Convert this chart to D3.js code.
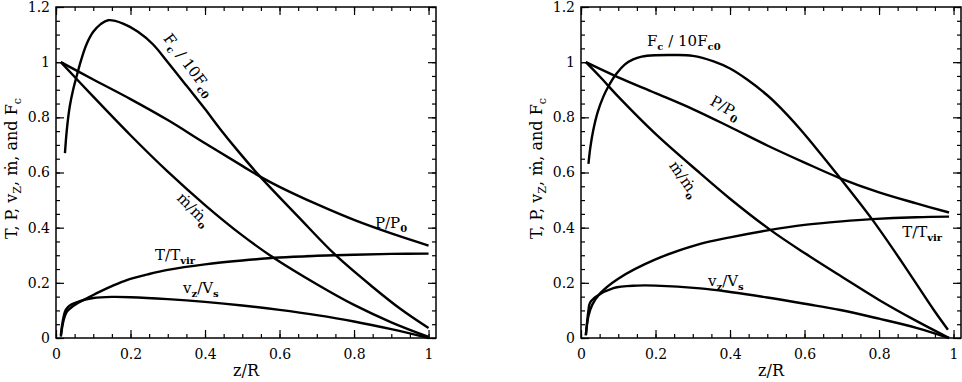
<!DOCTYPE html>
<meta charset="utf-8">
<head>
<style>
body { margin: 0; background: #fff; }
svg { display: block; font-family: "DejaVu Serif", serif; }
.tick text { font-family: "DejaVu Serif", serif; font-size: 14px; fill: #000; }
.tick line { stroke: #000; stroke-width: 1.2; }
.curve { fill: none; stroke: #000; stroke-width: 2.4; stroke-linejoin: round; }
.lbl { font-size: 15px; fill: #000; }
</style>
</head>
<body>
<svg id="chart" width="962" height="382"></svg>
<script src="https://cdn.jsdelivr.net/npm/d3@7"></script>
<script>

// ---- data: [z/R, value] ----
var leftFc = [[0.024,0.67],[0.029,0.754],[0.037,0.84],[0.046,0.9],[0.055,0.947],[0.068,1.01],[0.082,1.065],
  [0.1,1.11],[0.12,1.138],[0.14,1.152],[0.18,1.14],[0.22,1.11],[0.26,1.065],[0.3,1.0],[0.35,0.915],
  [0.4,0.83],[0.441,0.757],[0.486,0.682],[0.548,0.585],[0.65,0.44],[0.75,0.301],[0.85,0.185],
  [0.925,0.105],[1.0,0.036]];
var leftP = [[0.013,1.0],[0.1,0.937],[0.2,0.866],[0.3,0.79],[0.4,0.706],[0.5,0.624],[0.548,0.585],
  [0.6,0.548],[0.7,0.485],[0.8,0.428],[0.9,0.379],[1.0,0.335]];
var leftMdot = [[0.013,1.0],[0.1,0.875],[0.2,0.735],[0.3,0.603],[0.4,0.482],[0.5,0.372],[0.584,0.291],
  [0.7,0.195],[0.8,0.12],[0.9,0.057],[1.0,0.004]];
var leftT = [[0.013,0.005],[0.018,0.05],[0.024,0.08],[0.03,0.097],[0.045,0.115],[0.06,0.128],[0.08,0.142],
  [0.1,0.156],[0.118,0.168],[0.15,0.188],[0.19,0.21],[0.25,0.232],[0.3,0.247],[0.4,0.267],[0.5,0.281],
  [0.6,0.292],[0.7,0.298],[0.8,0.302],[0.9,0.305],[1.0,0.306]];
var leftVz = [[0.013,0.01],[0.018,0.06],[0.024,0.095],[0.032,0.112],[0.042,0.122],[0.064,0.134],[0.1,0.145],
  [0.15,0.149],[0.2,0.148],[0.3,0.141],[0.4,0.131],[0.5,0.118],[0.6,0.102],[0.7,0.083],[0.8,0.06],
  [0.9,0.032],[1.0,0.0]];

var rightFc = [[0.02,0.631],[0.025,0.69],[0.033,0.754],[0.045,0.82],[0.06,0.875],[0.073,0.911],[0.095,0.958],
  [0.118,0.992],[0.14,1.01],[0.163,1.02],[0.2,1.025],[0.25,1.026],[0.3,1.023],[0.356,1.003],[0.4,0.977],
  [0.446,0.937],[0.5,0.88],[0.535,0.835],[0.589,0.756],[0.625,0.698],[0.696,0.579],[0.781,0.431],
  [0.86,0.278],[0.947,0.1015],[0.985,0.03]];
var rightP = [[0.013,1.0],[0.1,0.945],[0.2,0.888],[0.3,0.83],[0.4,0.765],[0.5,0.698],[0.6,0.636],
  [0.696,0.579],[0.8,0.528],[0.9,0.488],[0.988,0.455]];
var rightMdot = [[0.013,1.0],[0.051,0.947],[0.1,0.875],[0.2,0.74],[0.32,0.597],[0.4,0.505],[0.508,0.392],
  [0.6,0.308],[0.7,0.222],[0.8,0.138],[0.9,0.062],[0.988,0.0]];
var rightT = [[0.013,0.01],[0.02,0.08],[0.03,0.12],[0.05,0.16],[0.1,0.215],[0.2,0.285],[0.32,0.341],
  [0.4,0.365],[0.508,0.392],[0.6,0.41],[0.7,0.423],[0.781,0.431],[0.9,0.438],[0.988,0.44]];
var rightVz = [[0.013,0.01],[0.02,0.1],[0.024,0.127],[0.042,0.151],[0.087,0.181],[0.15,0.19],[0.2,0.19],
  [0.32,0.18],[0.4,0.167],[0.5,0.147],[0.6,0.124],[0.696,0.1015],[0.8,0.07],[0.9,0.037],[0.988,0.0]];

var xMajor = [0, 0.2, 0.4, 0.6, 0.8, 1];
var yMajor = [0, 0.2, 0.4, 0.6, 0.8, 1, 1.2];
var xLabel = "z/R";

var svg = d3.select("#chart"),
    margin = {top: 7, bottom: 44},
    width = 380,
    height = +svg.attr("height") - margin.top - margin.bottom;

var x = d3.scaleLinear().domain([0, 1.02]).range([0, width]);
var y = d3.scaleLinear().domain([0, 1.2]).range([height, 0]);

var line = d3.line()
    .x(function(d) { return x(d[0]); })
    .y(function(d) { return y(d[1]); })
    .curve(d3.curveCatmullRom.alpha(0.5));

// text with subscripts: parts = [[text, isSub, plain], ...]
function richText(sel, parts, subSize) {
  var shifted = false;
  parts.forEach(function(p) {
    var t = sel.append("tspan").text(p[0]);
    if (p[1]) {
      t.style("font-size", subSize + "px").style("font-weight", p[2] ? null : "bold");
      if (!shifted) { t.attr("dy", 4); shifted = true; }
    } else if (shifted) { t.attr("dy", -4); shifted = false; }
  });
  return sel;
}

function curveLabel(g, pos, parts, angle, anchor) {
  var t = g.append("text").attr("class", "lbl")
      .attr("text-anchor", anchor || "start")
      .attr("transform", "translate(" + x(pos[0]) + "," + y(pos[1]) + ") rotate(" + (angle || 0) + ")");
  richText(t, parts, 10);
}

function panel(left, series, labels) {
  var g = svg.append("g").attr("transform", "translate(" + left + "," + margin.top + ")");

  var minorX = d3.range(0, 1.0001, 0.05), minorY = d3.range(0, 1.2001, 0.05);

  g.append("g").attr("transform", "translate(0," + height + ")")
      .call(d3.axisBottom(x).tickValues(minorX).tickSize(-4).tickFormat(""));
  g.append("g").attr("transform", "translate(0," + height + ")")
      .call(d3.axisBottom(x).tickValues(xMajor).tickSize(-8).tickPadding(11).tickFormat(String));
  g.append("g").call(d3.axisTop(x).tickValues(minorX).tickSize(-4).tickFormat(""));
  g.append("g").call(d3.axisTop(x).tickValues(xMajor).tickSize(-8).tickFormat(""));
  g.append("g").call(d3.axisLeft(y).tickValues(minorY).tickSize(-4).tickFormat(""));
  g.append("g").call(d3.axisLeft(y).tickValues(yMajor).tickSize(-8).tickPadding(6).tickFormat(String));
  g.append("g").attr("transform", "translate(" + width + ",0)")
      .call(d3.axisRight(y).tickValues(minorY).tickSize(-4).tickFormat(""));
  g.append("g").attr("transform", "translate(" + width + ",0)")
      .call(d3.axisRight(y).tickValues(yMajor).tickSize(-8).tickFormat(""));
  g.selectAll(".domain").remove();

  g.append("rect").attr("width", width).attr("height", height)
      .attr("fill", "none").attr("stroke", "#000").attr("stroke-width", 1.5);

  g.selectAll(".curve").data(series).enter().append("path")
      .attr("class", "curve").attr("d", line);

  labels.forEach(function(l) { curveLabel(g, l.pos, l.parts, l.angle, l.anchor); });

  g.append("text").attr("class", "lbl").attr("text-anchor", "middle")
      .attr("x", width / 2).attr("y", height + 38).style("font-size", "16px").text(xLabel);

  var yl = g.append("text").attr("class", "lbl").attr("text-anchor", "middle")
      .attr("transform", "translate(-39," + (height / 2 - 4) + ") rotate(-90)").style("font-size", "16px");
  richText(yl, [["T, P, v"], ["Z", true, true], [", \u1E41, and F"], ["c", true, true]], 11);
}

var sub = true;
panel(56, [leftFc, leftP, leftMdot, leftT, leftVz], [
  {pos: [0.346, 0.979], angle: 53, anchor: "middle", parts: [["F"], ["c", sub], [" / 10F"], ["c0", sub]]},
  {pos: [0.856, 0.399], parts: [["P/P"], ["0", sub]]},
  {pos: [0.36, 0.453], angle: 45, anchor: "middle", parts: [["\u1E41/\u1E41"], ["o", sub]]},
  {pos: [0.266, 0.283], parts: [["T/T"], ["vir", sub]]},
  {pos: [0.341, 0.163], parts: [["v"], ["z", sub], ["/V"], ["s", sub]]}
]);
panel(581, [rightFc, rightP, rightMdot, rightT, rightVz], [
  {pos: [0.177, 1.059], parts: [["F"], ["c", sub], [" / 10F"], ["c0", sub]]},
  {pos: [0.381, 0.819], angle: 30, anchor: "middle", parts: [["P/P"], ["0", sub]]},
  {pos: [0.266, 0.566], angle: 55, anchor: "middle", parts: [["\u1E41/\u1E41"], ["o", sub]]},
  {pos: [0.862, 0.366], parts: [["T/T"], ["vir", sub]]},
  {pos: [0.341, 0.189], parts: [["v"], ["z", sub], ["/V"], ["s", sub]]}
]);
</script>
</body>
</html>
